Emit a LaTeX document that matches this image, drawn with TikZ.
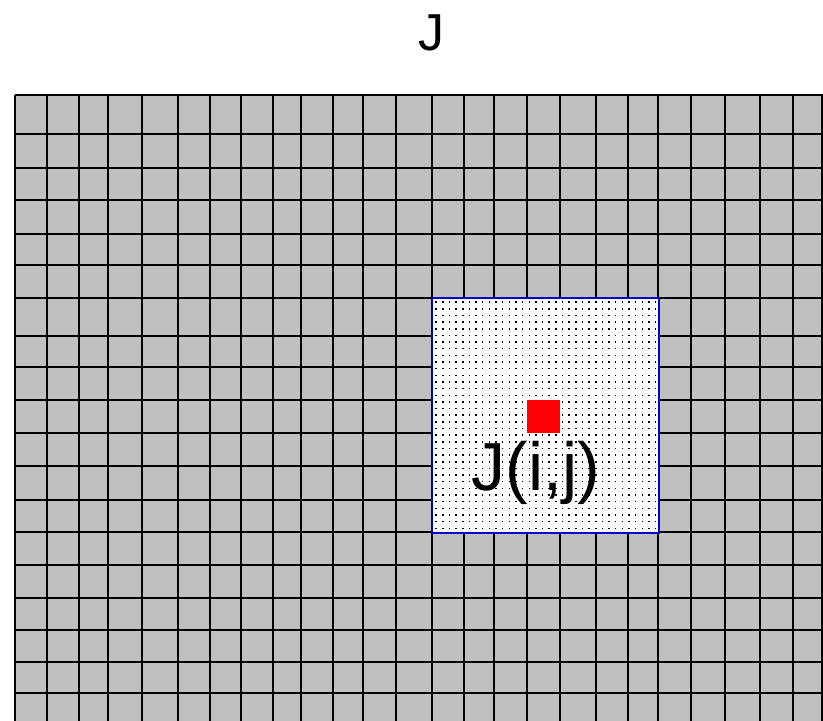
\documentclass[tikz,border=0pt]{standalone}
\usepackage{fontspec}
\setmainfont{Liberation Sans}
\definecolor{cellgray}{HTML}{C0C0C0}
\definecolor{winblue}{HTML}{0000CC}
\begin{document}
\begin{tikzpicture}[x=1pt,y=-1pt,
  gridline/.style={black,line width=1.8pt},
  winbox/.style={draw=winblue,line width=1.3pt,fill=white,inner sep=0pt,anchor=north west,minimum width=226pt,minimum height=234pt},
  dotmark/.style={fill=black},
  pixbox/.style={fill=red,draw=none,inner sep=0pt,minimum size=33pt,anchor=north west},
  bigtext/.style={font=\fontsize{68}{68}\selectfont,anchor=base,inner sep=0pt},
  titletext/.style={font=\fontsize{52}{52}\selectfont,anchor=base,inner sep=0pt}]
\useasboundingbox (0,0) rectangle (823,721);
\fill[cellgray] (15,95) rectangle (823,721);
\foreach \x in {15,47,79,108,142,178,210,241,273,301,333,363,396,432,464,494,527,560,596,628,658,691,725,760,793,822}
  \draw[gridline] (\x,95) -- (\x,721);
\foreach \y in {95,134,168,200,234,265,298,336,367,400,433,466,500,532,565,598,630,662,693}
  \draw[gridline] (15,\y) -- (823,\y);
\node[winbox] (win) at (432,298) {};
\foreach \i in {0,...,33}
  \foreach \j in {0,...,34}
    \fill[dotmark] (435.4+\i*6.65,301.4+\j*6.65) rectangle ++(1.5,1.5);
\draw[winblue,line width=1.3pt] (win.north west) rectangle (win.south east);
\node[pixbox] (pix) at (527,400) {};
\node[bigtext] (label) at (536,490) {J(i,j)};
\node[titletext] (title) at (431,50) {J};
\end{tikzpicture}
\end{document}
